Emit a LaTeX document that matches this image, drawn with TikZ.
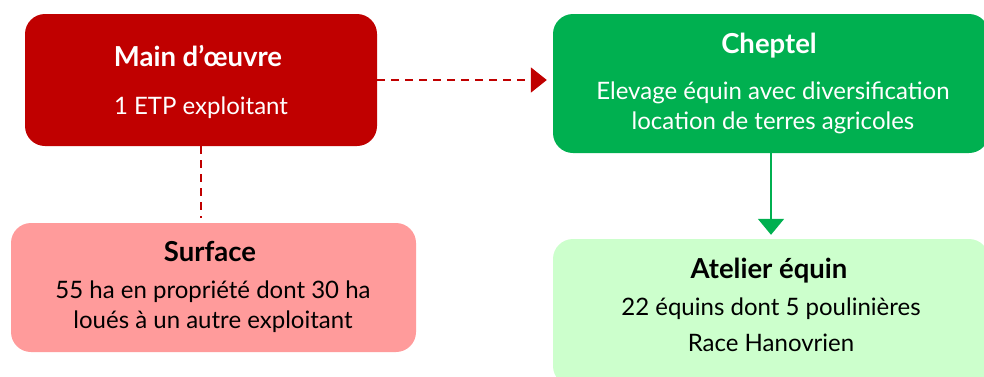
\documentclass[tikz,border=0pt]{standalone}
\usepackage{fontspec}
\setmainfont{Lato}
\usetikzlibrary{arrows.meta}
\definecolor{darkred}{HTML}{C00000}
\definecolor{pinkfill}{HTML}{FF9B9B}
\definecolor{greenfill}{HTML}{00B050}
\definecolor{lightgreen}{HTML}{CCFFCC}
\tikzset{
  box/.style={rounded corners=20pt, draw=none, inner sep=0pt},
  txt/.style={anchor=base, inner sep=0pt, font=\fontsize{24}{28}\selectfont},
  ttl/.style={anchor=base, inner sep=0pt, font=\fontsize{27.5}{32}\selectfont\bfseries},
  redline/.style={darkred, line width=1.8pt, dash pattern=on 8pt off 6pt},
  greenline/.style={greenfill, line width=2pt},
}
\begin{document}
\begin{tikzpicture}[x=1pt,y=-1pt]
\useasboundingbox (0,0) rectangle (984,376);
% boxes
\node[box, fill=darkred, minimum width=352pt, minimum height=132pt] (b1) at (201,80) {};
\node[box, fill=greenfill, minimum width=436pt, minimum height=139pt] (b2) at (771,83.5) {};
\node[box, fill=pinkfill, minimum width=405pt, minimum height=129pt] (b3) at (213.5,287.5) {};
\node[box, fill=lightgreen, minimum width=436pt, minimum height=147pt] (b4) at (771,312.5) {};
% texts
\node[ttl, text=white] (t1a) at (198,66) {Main d’œuvre};
\node[txt, text=white] (t1b) at (201,114) {1 ETP exploitant};
\node[ttl, text=white] (t2a) at (769,53) {Cheptel};
\node[txt, text=white] (t2b) at (773,99) {Elevage équin avec diversification};
\node[txt, text=white] (t2c) at (773,129) {location de terres agricoles};
\node[ttl, text=black] (t3a) at (210,261) {Surface};
\node[txt, text=black] (t3b) at (213,298) {55 ha en propriété dont 30 ha};
\node[txt, text=black] (t3c) at (213,328) {loués à un autre exploitant};
\node[ttl, text=black] (t4a) at (769,278) {Atelier équin};
\node[txt, text=black] (t4b) at (771,315) {22 équins dont 5 poulinières};
\node[txt, text=black] (t4c) at (771,351) {Race Hanovrien};
% connectors
\coordinate (b2w) at (b2.west |- b1.east);
\draw[redline, shorten >=6pt, -{Triangle[length=16pt,width=25pt,sep=0pt]}] (b1.east) -- (b2w);
\draw[redline, shorten >=5pt] (b1.south) -- (b1.south |- b3.north);
\draw[greenline, shorten >=4pt, -{Triangle[length=16pt,width=26pt]}] (b2.south) -- (b4.north);
\end{tikzpicture}
\end{document}
